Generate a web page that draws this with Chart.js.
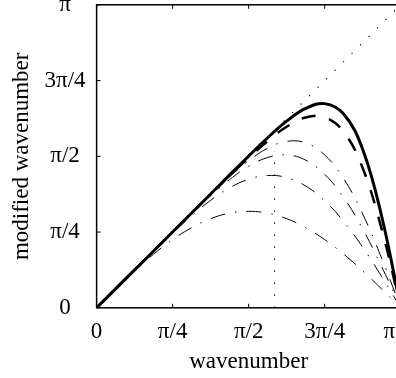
<!DOCTYPE html>
<html>
<head>
<meta charset="utf-8">
<script src="https://cdn.jsdelivr.net/npm/chart.js@4"></script>
<style>
  html, body { margin:0; padding:0; background:#fff; overflow:hidden; width:396px; height:378px; }
  #wrap { position:absolute; left:0; top:-20px; width:428px; height:398px; }
</style>
</head>
<body>
<div id="wrap"><canvas id="chart"></canvas></div>
<script>
// ── Data ──
const waveNumber = [0, 0.196, 0.393, 0.589, 0.785, 0.982, 1.178, 1.374, 1.571, 1.767, 1.963, 2.160, 2.356, 2.553, 2.749, 2.945, 3.142];
const order2   = [0, 0.195, 0.383, 0.556, 0.707, 0.831, 0.924, 0.981, 1.000, 0.981, 0.924, 0.831, 0.707, 0.556, 0.383, 0.195, 0];
const order4   = [0, 0.196, 0.392, 0.587, 0.776, 0.955, 1.114, 1.244, 1.333, 1.372, 1.350, 1.263, 1.109, 0.895, 0.628, 0.324, 0];
const order6   = [0, 0.196, 0.393, 0.589, 0.784, 0.977, 1.161, 1.329, 1.467, 1.558, 1.585, 1.531, 1.384, 1.143, 0.817, 0.426, 0];
const order8   = [0, 0.196, 0.393, 0.589, 0.785, 0.981, 1.173, 1.358, 1.524, 1.654, 1.725, 1.710, 1.585, 1.338, 0.973, 0.513, 0];
const compact6 = [0, 0.196, 0.393, 0.589, 0.785, 0.981, 1.176, 1.369, 1.556, 1.729, 1.877, 1.973, 1.976, 1.824, 1.448, 0.815, 0];
const compact  = [0, 0.196, 0.393, 0.589, 0.786, 0.983, 1.180, 1.378, 1.573, 1.763, 1.935, 2.067, 2.117, 2.009, 1.643, 0.949, 0];
const exactX = [0, 3.1416], exactY = [0, 3.1416];
const cutX = [1.839, 1.839], cutY = [0, 1.62];
const xTickLabels = ['0', 'π/4', 'π/2', '3π/4', 'π\u2003'];
const yTickLabels = ['0', 'π/4', 'π/2', '3π/4', 'π'];
const tickValues = [0, Math.PI/4, Math.PI/2, 3*Math.PI/4, Math.PI];

const FONT = { family: '"Liberation Serif", "Times New Roman", serif', size: 23 };

function pts(xs, ys) { return xs.map((x,i) => ({ x, y: ys[i] })); }

function lineSet(ys, width, dash) {
    return { data: pts(waveNumber, ys), borderColor:'#000', borderWidth:width, borderDash:dash,
             pointRadius:0, fill:false, tension:0.4, borderCapStyle:'butt' };
}

// ── Box + inward ticks (MATLAB style) ──
const boxPlugin = {
    id: 'box',
    afterDatasetsDraw(chart) {
        const {ctx, chartArea:a, scales:{x, y}} = chart;
        ctx.save();
        ctx.strokeStyle = '#000'; ctx.lineWidth = 1.5;
        ctx.strokeRect(a.left, a.top, a.right-a.left, a.bottom-a.top);
        ctx.lineWidth = 1;
        ctx.beginPath();
        tickValues.forEach(v => {
            const px = x.getPixelForValue(v), py = y.getPixelForValue(v);
            ctx.moveTo(px, a.bottom); ctx.lineTo(px, a.bottom-4);
            ctx.moveTo(px, a.top);    ctx.lineTo(px, a.top+4);
            ctx.moveTo(a.left, py);   ctx.lineTo(a.left+4, py);
            ctx.moveTo(a.right, py);  ctx.lineTo(a.right-4, py);
        });
        ctx.stroke();
        ctx.restore();
    }
};

const axisOpts = (title, titlePad, labels, ticks) => ({
    type:'linear', min:0, max:Math.PI,
    afterBuildTicks: (s) => { s.ticks = tickValues.map(v => ({ value:v })); },
    ticks: Object.assign({ color:'#000', font:FONT, callback:(v,i) => labels[i] }, ticks),
    grid: { display:false, drawTicks:false },
    border: { display:false },
    title: { display:true, text:title, color:'#000', font:FONT, padding:titlePad }
});

new Chart(document.getElementById('chart'), {
    type:'line',
    data: { datasets: [
        lineSet(compact, 3, []),
        lineSet(compact6, 2.5, [14, 14]),
        lineSet(order8, 1, [15, 10, 1.5, 10]),
        lineSet(order6, 1, [15, 10, 1.5, 10]),
        lineSet(order4, 1, [15, 10, 1.5, 10]),
        lineSet(order2, 1, [15, 10, 1.5, 10]),
        { data: pts(exactX, exactY), borderColor:'#000', borderWidth:1.2, borderDash:[1.2, 10.8], pointRadius:0 },
        { data: pts(cutX, cutY), borderColor:'#000', borderWidth:1.2, borderDash:[1.2, 10.8], pointRadius:0 }
    ]},
    options: {
        responsive:true, maintainAspectRatio:false, animation:false,
        layout: { padding: { left:8, right:20, top:0, bottom:2 } },
        plugins: { legend:{ display:false }, tooltip:{ enabled:false } },
        scales: {
            x: axisOpts('wavenumber', { top:-7, bottom:0 }, xTickLabels, { padding:10, maxRotation:0 }),
            y: axisOpts('modified wavenumber', { top:0, bottom:-2 }, yTickLabels, { padding:11, crossAlign:'center' })
        }
    },
    plugins: [boxPlugin]
});
</script>
</body>
</html>
